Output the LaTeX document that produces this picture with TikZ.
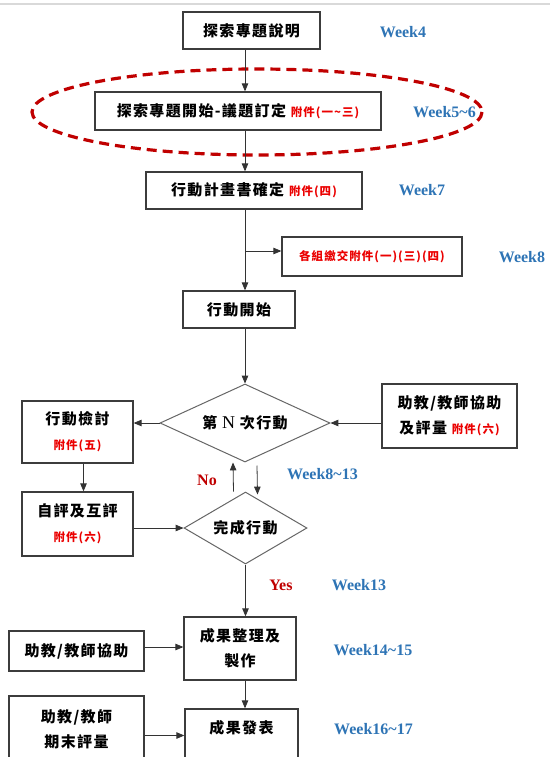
\documentclass[tikz,border=0pt]{standalone}
\usepackage{fontspec}
\usepackage{xcolor}
\usetikzlibrary{arrows,shapes.geometric}
\newfontfamily\cjk[LetterSpace=9]{Noto Sans CJK TC}
\newfontfamily\wk{Liberation Serif}
\definecolor{weekblue}{RGB}{46,116,181}
\definecolor{fujianred}{RGB}{235,0,0}
\definecolor{nored}{RGB}{192,0,0}
\definecolor{boxline}{RGB}{60,60,60}
\newcommand{\fujian}[1]{{\color{fujianred}\fontsize{11.5}{25}\selectfont #1}}

\tikzset{
  box/.style={draw=boxline, line width=1.4pt, fill=white, inner sep=0pt, align=center,
              font=\cjk\bfseries\fontsize{15}{25}\selectfont},
  decision/.style={diamond, draw=black!60, line width=1pt, fill=white, inner sep=0pt,
                   align=center, font=\cjk\bfseries\fontsize{15}{25}\selectfont},
  week/.style={text=weekblue, font=\wk\bfseries\fontsize{16}{18}\selectfont},
  yesno/.style={text=nored, font=\wk\bfseries\fontsize{16}{18}\selectfont},
  flow/.style={draw=black!80, line width=0.8pt, arrows=-triangle 45}
}

\begin{document}
\begin{tikzpicture}[x=1pt, y=-1pt]
  \useasboundingbox (0,0) rectangle (550,757);
  \draw[black!15, line width=1.5pt] (0,4) -- (550,4);
  % Main path nodes
  \coordinate (spine) at (245,0);
  \node(explain)[box, minimum width=137pt, minimum height=37pt] at (251.5,30.5) {探索專題說明};
  \node(start)[box, minimum width=286pt, minimum height=38pt] at (238,111) {探索專題開始-議題訂定 \fujian{附件(一\textasciitilde 三)}};
  \node(plan)[box, minimum width=216pt, minimum height=37pt] at (254,190.5) {行動計畫書確定 \fujian{附件(四)}};
  \node(submit)[box, minimum width=180pt, minimum height=39pt] at (372,256.5) {\fujian{各組繳交附件(一)(三)(四)}};
  \node(act)[box, minimum width=112pt, minimum height=37pt] at (239,309.5) {行動開始};
  % Decisions
  \node(nth)[decision, aspect=2.6, minimum width=170pt, minimum height=78pt] at (245,423) {第 {\wk\mdseries\fontsize{18}{25}\selectfont N} 次行動};
  \node(done)[decision, aspect=1.8, minimum width=123pt, minimum height=72pt] at (245.5,528) {完成行動};
  % Side boxes
  \node(help)[box, minimum width=135pt, minimum height=64pt] at (449.5,416) {助教/教師協助\\及評量 \fujian{附件(六)}};
  \node(review)[box, minimum width=111pt, minimum height=62pt] at (77.5,432) {行動檢討\\\fujian{附件(五)}};
  \node(selfeval)[box, minimum width=111pt, minimum height=64pt] at (77.5,524) {自評及互評\\\fujian{附件(六)}};
  % Results
  \node(result)[box, minimum width=112pt, minimum height=63pt] at (240,648.5) {成果整理及\\製作};
  \node(assist)[box, minimum width=135pt, minimum height=40pt] at (76.5,651) {助教/教師協助};
  \node(show)[box, minimum width=113pt, minimum height=61pt] at (241.5,739.5) {成果發表\\\mbox{}};
  \node(finaleval)[box, minimum width=135pt, minimum height=67pt] at (76.5,729.5) {助教/教師\\期末評量};
  % Week labels
  \node(wkfour)[week] at (403,32) {Week4};
  \node(wkfivesix)[week] at (444.5,112) {Week5\textasciitilde6};
  \node(wkseven)[week] at (422,190) {Week7};
  \node(wkeight)[week] at (522,257) {Week8};
  \node(wkloop)[week] at (322.5,474) {Week8\textasciitilde13};
  \node(wkthirteen)[week] at (359,585) {Week13};
  \node(wkresult)[week] at (373,650) {Week14\textasciitilde15};
  \node(wkshow)[week] at (373.5,729) {Week16\textasciitilde17};
  \node(no)[yesno] at (207,480) {No};
  \node(yes)[yesno] at (281,585) {Yes};
  % Dashed ellipse round the topic step
  \draw[nored, line width=3.2pt, dash pattern=on 10pt off 6pt] (257,112) ellipse [x radius=225, y radius=43];
  % Arrows
  \coordinate (branch) at (245,251);
  \draw[flow] (explain.south -| spine) -- (start.north -| spine);
  \draw[flow] (start.south -| spine) -- (plan.north -| spine);
  \draw[flow] (plan.south -| spine) -- (act.north -| spine);
  \draw[flow] (branch) -- (branch -| submit.west);
  \draw[flow] (act.south -| spine) -- (nth.north);
  \draw[flow] (help.west |- nth.east) -- (nth.east);
  \draw[flow] (nth.west) -- (nth.west -| review.east);
  \draw[flow] ([xshift=6pt]review.south) -- ([xshift=6pt]selfeval.north);
  \draw[flow] (selfeval.east |- done.west) -- (done.west);
  \draw[flow] ([xshift=-12pt]done.north) -- ([xshift=-12pt]nth.south);
  \draw[flow] ([xshift=12pt,yshift=-3pt]nth.south) -- ([xshift=12pt,yshift=-3pt]done.north);
  \draw[flow] (done.south) -- (done.south |- result.north);
  \draw[flow] ([yshift=4pt]assist.east) -- ([yshift=4pt]assist.east -| result.west);
  \draw[flow] (result.south -| spine) -- (show.north -| spine);
  \draw[flow] ([yshift=-6pt]finaleval.east) -- ([yshift=-6pt]finaleval.east -| show.west);
\end{tikzpicture}
\end{document}
